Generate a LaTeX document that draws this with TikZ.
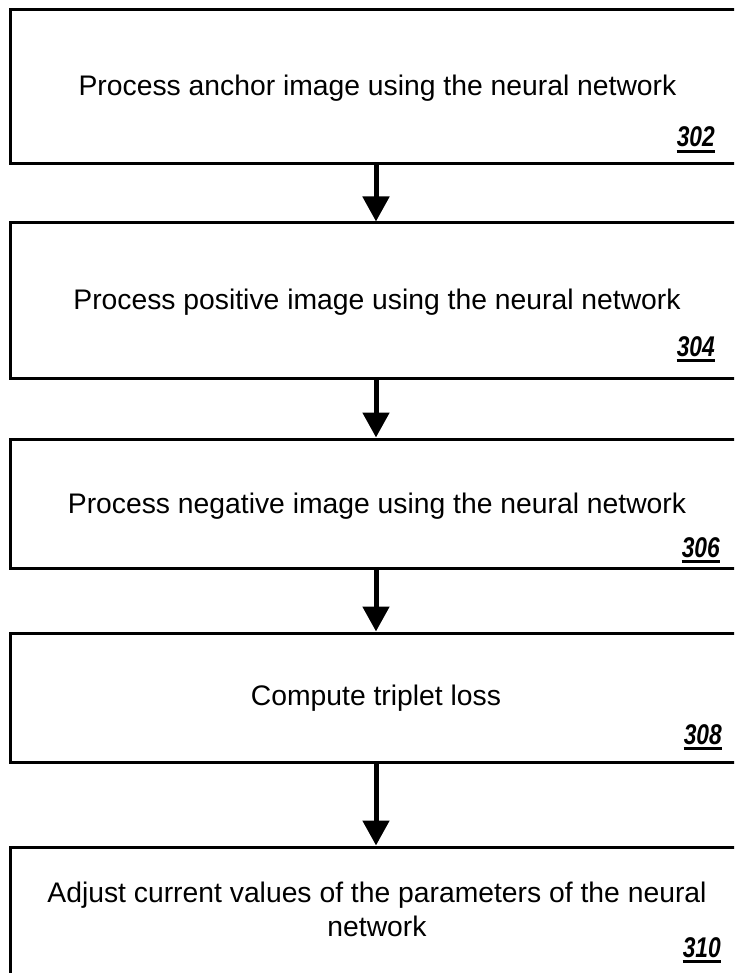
\documentclass[tikz,border=0pt]{standalone}
\usepackage{fontspec}
\setmainfont{Liberation Sans}
\newfontfamily\refnumfont[FakeStretch=0.8]{Liberation Sans}
\usetikzlibrary{arrows.meta}
\tikzset{
  stepbox/.style={draw, line width=3pt, rectangle, inner sep=0pt},
  steptext/.style={anchor=base, inner sep=0pt, font=\fontsize{28.3}{34}\selectfont, align=center},
  refnum/.style={anchor=base east, inner sep=0pt, font=\refnumfont\bfseries\itshape\fontsize{28.5}{30}\selectfont},
  flow/.style={line width=5pt, -{Triangle[width=26pt,length=25pt]}},
  refline/.style={line width=2.6pt}
}
\newcommand{\refmark}[3]{%
  \node[refnum] (#1) at (#2) {#3};
  \draw[refline] ([yshift=-4.5pt]#1.base west) -- ([yshift=-4.5pt]#1.base east);
}
\begin{document}
\begin{tikzpicture}[x=1pt,y=-1pt]
  \useasboundingbox (0,0) rectangle (734,973);
  \clip (0,0) rectangle (734,973);
  \fill[white] (0,0) rectangle (734,973);

  % step boxes
  \node[stepbox, minimum width=732pt, minimum height=154pt] (b1) at (376,87) {};
  \node[stepbox, minimum width=732pt, minimum height=155pt] (b2) at (376,300.5) {};
  \node[stepbox, minimum width=732pt, minimum height=129pt] (b3) at (376,503.5) {};
  \node[stepbox, minimum width=732pt, minimum height=129pt] (b4) at (376,697.5) {};
  \node[stepbox, minimum width=732pt, minimum height=160pt] (b5) at (376,927) {};

  % step texts
  \node[steptext] (t1) at (377.5,96) {Process anchor image using the neural network};
  \node[steptext] (t2) at (377,309) {Process positive image using the neural network};
  \node[steptext] (t3) at (377,513) {Process negative image using the neural network};
  \node[steptext] (t4) at (376,705) {Compute triplet loss};
  \node[steptext, anchor=north] (t5) at (377,882) {Adjust current values of the parameters of the neural\\network};

  % reference numerals
  \refmark{r1}{715,147}{302}
  \refmark{r2}{715,356}{304}
  \refmark{r3}{720,557}{306}
  \refmark{r4}{722,744}{308}
  \refmark{r5}{721,957}{310}

  % flow arrows
  \draw[flow] (b1.south) -- (b2.north);
  \draw[flow] (b2.south) -- (b3.north);
  \draw[flow] (b3.south) -- (b4.north);
  \draw[flow] (b4.south) -- (b5.north);
\end{tikzpicture}
\end{document}
